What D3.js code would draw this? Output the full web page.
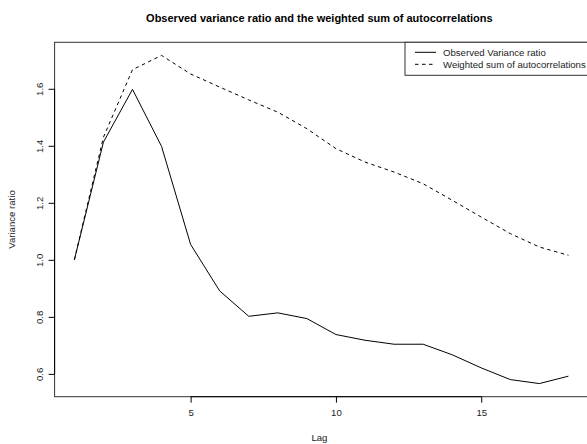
<!DOCTYPE html>
<html>
<head>
<meta charset="utf-8">
<script src="https://cdn.jsdelivr.net/npm/d3@7/dist/d3.min.js"></script>
<style>
  html, body { margin: 0; padding: 0; background: #fff; }
  svg { display: block; font-family: "Liberation Sans", Arial, sans-serif; }
</style>
</head>
<body>
<svg id="chart" width="587" height="444"></svg>
<script>
// Lags and the two series
const lags = [1, 2, 3, 4, 5, 6, 7, 8, 9, 10, 11, 12, 13, 14, 15, 16, 17, 18];
const observedRatio = [1.000, 1.413, 1.598, 1.398, 1.054, 0.891, 0.802, 0.814, 0.794, 0.738, 0.718, 0.704, 0.704, 0.667, 0.621, 0.580, 0.566, 0.592];
const weightedSum = [1.000, 1.430, 1.667, 1.717, 1.652, 1.606, 1.561, 1.518, 1.460, 1.390, 1.343, 1.308, 1.267, 1.209, 1.150, 1.092, 1.045, 1.016];
const xTicks = [5, 10, 15];
const yTicks = [0.6, 0.8, 1.0, 1.2, 1.4, 1.6];
const legendLabels = ["Observed Variance ratio", "Weighted sum of autocorrelations"];
const titleText = "Observed variance ratio and the weighted sum of autocorrelations";

const svg = d3.select("#chart");
const plot = { left: 54.6, right: 588.2, top: 42.3, bottom: 396.7 };

// 4% padding on each side of the data range
function padded(lo, hi) {
  const d = (hi - lo) * 0.04;
  return [lo - d, hi + d];
}
const allY = observedRatio.concat(weightedSum);
const x = d3.scaleLinear().domain(padded(d3.min(lags), d3.max(lags))).range([plot.left, plot.right]);
const y = d3.scaleLinear().domain(padded(d3.min(allY), d3.max(allY))).range([plot.bottom, plot.top]);

const ink = "#000";
const font = "Liberation Sans, Arial, sans-serif";

// Plot frame
svg.append("rect")
  .attr("x", plot.left).attr("y", plot.top)
  .attr("width", plot.right - plot.left).attr("height", plot.bottom - plot.top)
  .attr("fill", "none").attr("stroke", "#333").attr("stroke-width", 1);

// Axes
const xAxis = d3.axisBottom(x).tickValues(xTicks).tickSize(6).tickPadding(6).tickFormat(d3.format("d"));
const gx = svg.append("g").attr("transform", `translate(0,${plot.bottom})`).call(xAxis);
gx.select(".domain").attr("d", `M${x(xTicks[0])},0H${x(xTicks[xTicks.length - 1])}`).attr("stroke", ink);
gx.selectAll(".tick line").attr("stroke", ink);
gx.selectAll(".tick text").attr("font-size", 9.6).attr("fill", "#222").attr("font-family", font);

const yAxis = d3.axisLeft(y).tickValues(yTicks).tickSize(6).tickFormat(d3.format(".1f"));
const gy = svg.append("g").attr("transform", `translate(${plot.left},0)`).call(yAxis);
gy.select(".domain").attr("d", `M0,${y(yTicks[0])}V${y(yTicks[yTicks.length - 1])}`).attr("stroke", ink);
gy.selectAll(".tick line").attr("stroke", ink);
gy.selectAll(".tick text")
  .attr("font-size", 9.6).attr("fill", "#222").attr("font-family", font)
  .attr("x", null).attr("dy", null)
  .attr("text-anchor", "middle")
  .attr("transform", "translate(-12,0) rotate(-90)");

// Series lines
const line = d3.line().x((d, i) => x(lags[i])).y(d => y(d));
svg.append("path").datum(observedRatio)
  .attr("d", line).attr("fill", "none").attr("stroke", ink).attr("stroke-width", 1);
svg.append("path").datum(weightedSum)
  .attr("d", line).attr("fill", "none").attr("stroke", ink).attr("stroke-width", 1)
  .attr("stroke-dasharray", "3.5,3.5");

// Titles
svg.append("text")
  .attr("x", (plot.left + plot.right) / 2 - 2).attr("y", 22)
  .attr("text-anchor", "middle").attr("font-weight", "bold").attr("font-size", 11)
  .attr("fill", ink).text(titleText);
svg.append("text")
  .attr("x", (plot.left + plot.right) / 2 - 2).attr("y", 441)
  .attr("text-anchor", "middle").attr("font-size", 9.6).attr("fill", "#222").text("Lag");
svg.append("text")
  .attr("transform", `translate(15,${(plot.top + plot.bottom) / 2}) rotate(-90)`)
  .attr("text-anchor", "middle").attr("font-size", 9.6).attr("fill", "#222").text("Variance ratio");

// Legend (top right)
const lg = svg.append("g");
const legendBox = { x: 405, y: plot.top, w: 190, h: 33 };
lg.append("rect")
  .attr("x", legendBox.x).attr("y", legendBox.y).attr("width", legendBox.w).attr("height", legendBox.h)
  .attr("fill", "#fff").attr("stroke", "#333").attr("stroke-width", 1);
const dashes = [null, "3.5,3.5"];
legendLabels.forEach((label, i) => {
  const cy = legendBox.y + 10 + i * 12;
  lg.append("line")
    .attr("x1", legendBox.x + 10).attr("x2", legendBox.x + 31)
    .attr("y1", cy).attr("y2", cy)
    .attr("stroke", ink).attr("stroke-width", 1)
    .attr("stroke-dasharray", dashes[i]);
  lg.append("text")
    .attr("x", legendBox.x + 38).attr("y", cy + 3.5)
    .attr("font-size", 9.6).attr("fill", "#222").attr("font-family", font).text(label);
});
</script>
</body>
</html>
